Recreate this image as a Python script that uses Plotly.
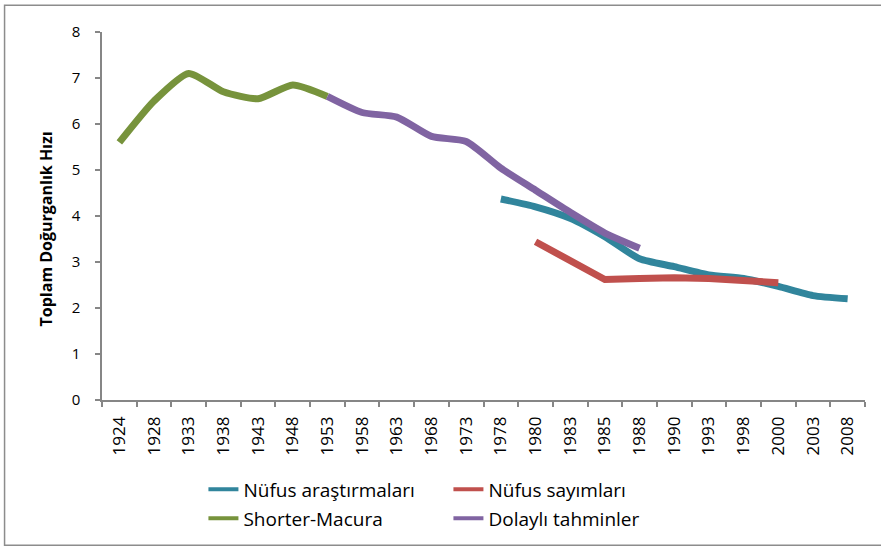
import plotly.graph_objects as go

categories = ["1924", "1928", "1933", "1938", "1943", "1948", "1953", "1958", "1963",
              "1968", "1973", "1978", "1980", "1983", "1985", "1988", "1990", "1993",
              "1998", "2000", "2003", "2008"]

nufus_arastirmalari = [None, None, None, None, None, None, None, None, None, None, None,
                       4.37, 4.20, 3.95, 3.55, 3.07, 2.90, 2.72, 2.64, 2.47, 2.27, 2.20]
nufus_sayimlari = [None, None, None, None, None, None, None, None, None, None, None,
                   None, 3.44, None, 2.62, 2.64, 2.66, 2.64, 2.60, 2.55, None, None]
shorter_macura = [5.60, 6.50, 7.10, 6.70, 6.55, 6.85, 6.60, None, None, None, None,
                  None, None, None, None, None, None, None, None, None, None, None]
dolayli_tahminler = [None, None, None, None, None, None, 6.60, 6.25, 6.15, 5.73, 5.62,
                     5.04, 4.56, 4.08, 3.63, 3.30, None, None, None, None, None, None]

y_ticks = [0, 1, 2, 3, 4, 5, 6, 7, 8]

FONT = "Open Sans"
AX = "#868686"

fig = go.Figure()
series = [
    ("Nüfus araştırmaları", nufus_arastirmalari, "#31859C", "spline", "legend"),
    ("Nüfus sayımları", nufus_sayimlari, "#C0504D", "linear", "legend"),
    ("Shorter-Macura", shorter_macura, "#77933C", "spline", "legend2"),
    ("Dolaylı tahminler", dolayli_tahminler, "#8064A2", "spline", "legend2"),
]
for name, vals, color, shape, lg in series:
    fig.add_trace(go.Scatter(
        x=categories, y=vals, name=name, mode="lines",
        line=dict(color=color, width=7, shape=shape, smoothing=0.6),
        connectgaps=True, showlegend=False,
    ))
# legend entries (thinner lines, as in the reference legend)
for name, vals, color, shape, lg in series:
    fig.add_trace(go.Scatter(
        x=[None], y=[None], name=name, mode="lines",
        line=dict(color=color, width=4), legend=lg, showlegend=True,
    ))

W, H = 881, 550
L, R, T, B = 101.5, 16, 32, 148
pw, ph = W - L - R, H - T - B

def px(x):
    return (x - L) / pw

def py(y):
    return (H - B - y) / ph

legend_common = dict(orientation="h", xanchor="left", yanchor="middle",
                     entrywidth=200, entrywidthmode="pixels",
                     font=dict(size=19, family=FONT),
                     bgcolor="rgba(0,0,0,0)", tracegroupgap=0)

fig.update_layout(
    width=W, height=H,
    margin=dict(l=L, r=R, t=T, b=B),
    paper_bgcolor="white", plot_bgcolor="white",
    font=dict(family=FONT, color="#000000"),
    showlegend=True,
    legend=dict(x=px(203), y=py(492), **legend_common),
    legend2=dict(x=px(203), y=py(521), **legend_common),
    xaxis=dict(
        type="category", categoryorder="array", categoryarray=categories,
        range=[-0.5, len(categories) - 0.5],
        tickson="boundaries", ticks="outside", ticklen=5, tickcolor=AX, tickwidth=1.5,
        showline=True, linecolor=AX, linewidth=1.5, showgrid=False, zeroline=False,
        tickangle=-90, tickfont=dict(size=17, family=FONT), ticklabelstandoff=8,
        automargin=False,
    ),
    yaxis=dict(
        range=[0, 8], tickvals=y_ticks, ticks="outside", ticklen=5, tickcolor=AX, tickwidth=1.5,
        showline=True, linecolor=AX, linewidth=1.5, showgrid=False, zeroline=False,
        tickfont=dict(size=15, family=FONT), ticklabelstandoff=12, automargin=False,
    ),
    annotations=[dict(
        text="<b>Toplam Doğurganlık Hızı</b>", textangle=-90, showarrow=False,
        xref="paper", yref="paper", x=px(45), y=py(230), xanchor="center", yanchor="middle",
        font=dict(size=16, family=FONT, color="#000000"),
    )],
    shapes=[dict(
        type="rect", xref="paper", yref="paper",
        x0=px(4), x1=px(895), y0=py(548), y1=py(5),
        line=dict(color="#8C8C8C", width=1.5), fillcolor="rgba(0,0,0,0)", layer="below",
    )],
)

fig.write_html("out.html", config={"displayModeBar": False},
               post_script="document.body.style.margin='0';")
